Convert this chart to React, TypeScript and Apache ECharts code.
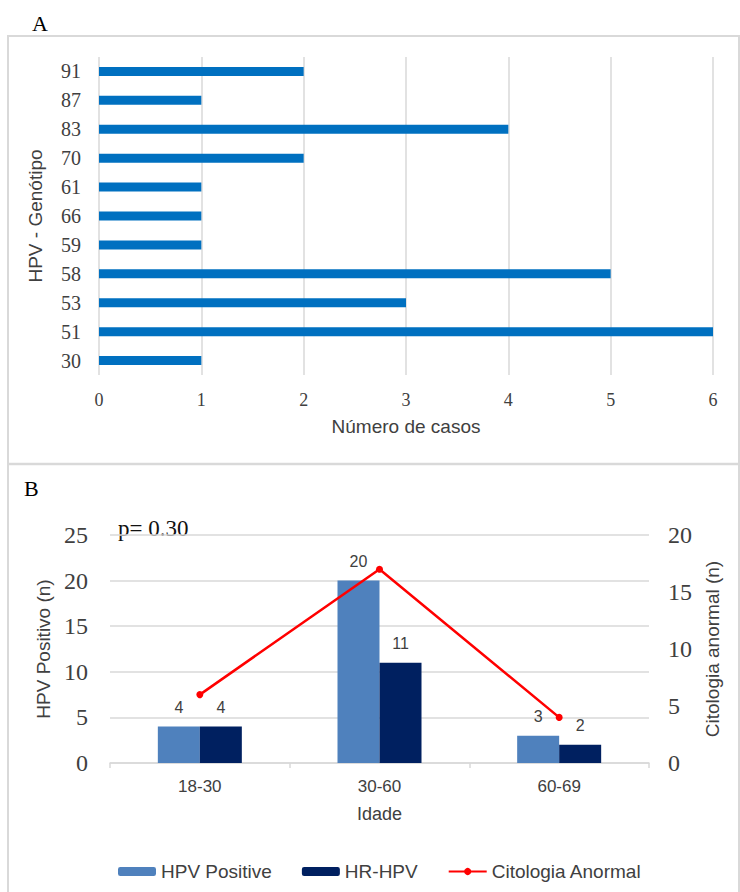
import React, { useEffect, useRef } from "react";
import * as echarts from "echarts";

const genotypes = ["30", "51", "53", "58", "59", "66", "61", "70", "83", "87", "91"];
const genotypeCases = [1, 6, 3, 5, 1, 1, 1, 2, 4, 1, 2];
const caseTicks = { min: 0, max: 6, interval: 1 };

const ageGroups = ["18-30", "30-60", "60-69"];
const hpvPositive = [4, 20, 3];
const hrHpv = [4, 11, 2];
const citologiaAnormal = [6, 17, 4];

const SERIF = '"Liberation Serif", "Times New Roman", serif';
const SANS = '"Liberation Sans", Arial, sans-serif';
const TXT = "#404040";
const GRID = "#d9d9d9";

export default function App() {
  const ref = useRef<HTMLDivElement>(null);
  useEffect(() => {
    if (!ref.current) return;
    const chart = echarts.init(ref.current, undefined, { renderer: "svg" });
    const option: any = {
      animation: false,
      backgroundColor: "#ffffff",
      graphic: [
        {
          type: "rect",
          silent: true,
          shape: { x: 8, y: 36, width: 731, height: 900 },
          style: { fill: "none", stroke: GRID, lineWidth: 2 },
        },
        {
          type: "line",
          silent: true,
          shape: { x1: 8, y1: 464, x2: 739, y2: 464 },
          style: { stroke: GRID, lineWidth: 2.5 },
        },
        {
          type: "text",
          x: 32,
          y: 23,
          style: { text: "A", font: `22px ${SERIF}`, fill: "#000", verticalAlign: "middle" },
        },
        {
          type: "text",
          x: 24,
          y: 488,
          style: { text: "B", font: `22px ${SERIF}`, fill: "#000", verticalAlign: "middle" },
        },
        {
          type: "text",
          x: 118,
          y: 528,
          style: { text: "p= 0.30", font: `23px ${SERIF}`, fill: "#111", verticalAlign: "middle" },
        },
      ],
      legend: {
        data: ["HPV Positive", "HR-HPV", "Citologia Anormal"],
        left: 113,
        top: 857,
        itemWidth: 38,
        itemHeight: 9,
        itemGap: 30,
        textStyle: { fontFamily: SANS, fontSize: 19, color: TXT },
      },
      grid: [
        { left: 99, top: 57, width: 614, height: 318 },
        { left: 110, top: 535, width: 539, height: 228 },
      ],
      xAxis: [
        {
          type: "value",
          gridIndex: 0,
          ...caseTicks,
          name: "Número de casos",
          nameLocation: "middle",
          nameGap: 42,
          nameTextStyle: { fontFamily: SANS, fontSize: 19, color: TXT },
          axisLabel: { fontFamily: SERIF, fontSize: 18, color: TXT, margin: 16 },
          splitLine: { show: true, lineStyle: { color: GRID, width: 1.5 } },
          axisLine: { show: false },
          axisTick: { show: false },
        },
        {
          type: "category",
          gridIndex: 1,
          data: ageGroups,
          name: "Idade",
          nameLocation: "middle",
          nameGap: 42,
          nameTextStyle: { fontFamily: SANS, fontSize: 18, color: TXT },
          axisLine: { show: true, lineStyle: { color: GRID, width: 1.5 } },
          axisTick: { show: true, length: 5, lineStyle: { color: GRID, width: 1.5 } },
          axisLabel: { fontFamily: SANS, fontSize: 17, color: TXT, margin: 15 },
        },
      ],
      yAxis: [
        {
          type: "category",
          gridIndex: 0,
          data: genotypes,
          name: "HPV - Genótipo",
          nameLocation: "middle",
          nameGap: 54,
          nameRotate: 90,
          nameTextStyle: { fontFamily: SANS, fontSize: 19, color: TXT },
          axisLabel: { fontFamily: SERIF, fontSize: 20, color: TXT, margin: 18 },
          axisLine: { show: false },
          axisTick: { show: false },
        },
        {
          type: "value",
          gridIndex: 1,
          min: 0,
          max: 25,
          interval: 5,
          name: "HPV Positivo (n)",
          nameLocation: "middle",
          nameGap: 55,
          nameRotate: 90,
          nameTextStyle: { fontFamily: SANS, fontSize: 19, color: TXT },
          axisLabel: { fontFamily: SERIF, fontSize: 24, color: TXT, margin: 22 },
          splitLine: { show: true, lineStyle: { color: GRID, width: 1.5 } },
          axisLine: { show: false },
          axisTick: { show: false },
        },
        {
          type: "value",
          gridIndex: 1,
          position: "right",
          min: 0,
          max: 20,
          interval: 5,
          name: "Citologia anormal (n)",
          nameLocation: "middle",
          nameGap: 54,
          nameRotate: 90,
          nameTextStyle: { fontFamily: SANS, fontSize: 19, color: TXT },
          axisLabel: { fontFamily: SERIF, fontSize: 24, color: TXT, margin: 19 },
          splitLine: { show: false },
          axisLine: { show: false },
          axisTick: { show: false },
        },
      ],
      series: [
        {
          type: "bar",
          xAxisIndex: 0,
          yAxisIndex: 0,
          data: genotypeCases,
          barWidth: 9,
          itemStyle: { color: "#0070C0" },
        },
        {
          name: "HPV Positive",
          type: "bar",
          xAxisIndex: 1,
          yAxisIndex: 1,
          data: hpvPositive,
          barWidth: 42,
          barGap: "0%",
          itemStyle: { color: "#4F81BD" },
          label: { show: true, position: "top", distance: 11, fontFamily: SANS, fontSize: 16, color: TXT },
        },
        {
          name: "HR-HPV",
          type: "bar",
          xAxisIndex: 1,
          yAxisIndex: 1,
          data: hrHpv,
          barWidth: 42,
          barGap: "0%",
          itemStyle: { color: "#002060" },
          label: { show: true, position: "top", distance: 11, fontFamily: SANS, fontSize: 16, color: TXT },
        },
        {
          name: "Citologia Anormal",
          type: "line",
          xAxisIndex: 1,
          yAxisIndex: 2,
          data: citologiaAnormal,
          symbol: "circle",
          symbolSize: 7,
          lineStyle: { color: "#ff0000", width: 2.5 },
          itemStyle: { color: "#ff0000" },
          z: 5,
        },
      ],
    };
    chart.setOption(option);
    return () => chart.dispose();
  }, []);
  return (
    <div
      ref={ref}
      style={{ position: "fixed", left: 0, top: 0, width: 740, height: 892, background: "#fff" }}
    />
  );
}
